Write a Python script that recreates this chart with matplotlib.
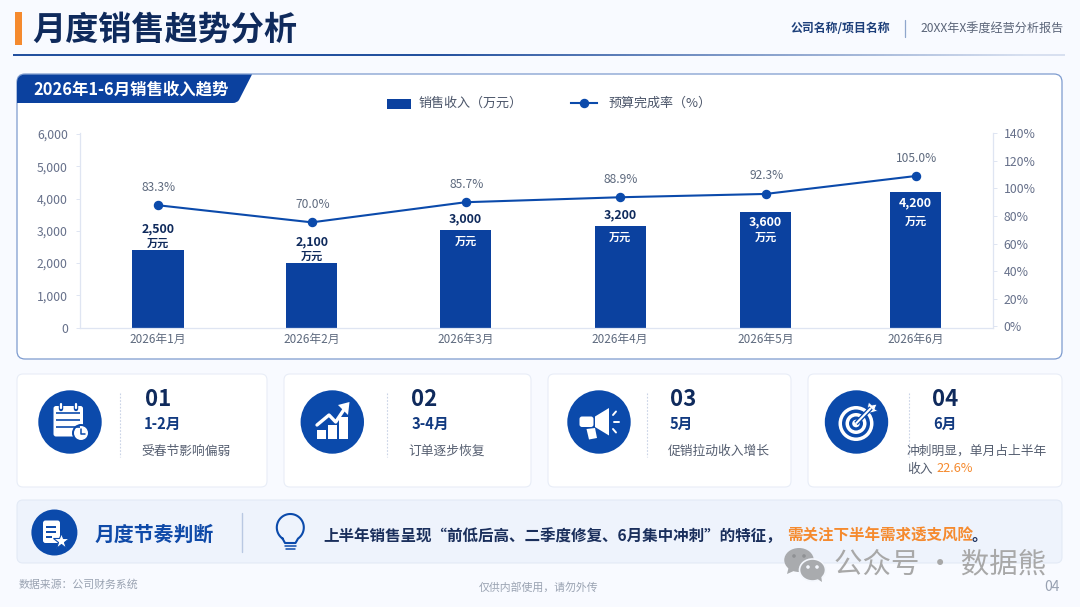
import numpy as np
import matplotlib
matplotlib.use("Agg")
import matplotlib.pyplot as plt
from matplotlib.patches import FancyBboxPatch, Circle, Rectangle, Polygon, Ellipse, PathPatch
from matplotlib.path import Path

plt.rcParams['font.family'] = ['Noto Sans CJK SC', 'DejaVu Sans']

# values as drawn in the picture (bar and line heights), and the labels printed on them
months = ['2026年1月', '2026年2月', '2026年3月', '2026年4月', '2026年5月', '2026年6月']
revenue = [2416, 1994, 3017, 3140, 3574, 4203]
revenue_labels = ['2,500', '2,100', '3,000', '3,200', '3,600', '4,200']
rate = [87.8, 75.4, 90.0, 93.6, 96.0, 109.0]
rate_labels = ['83.3%', '70.0%', '85.7%', '88.9%', '92.3%', '105.0%']
left_ticks = [0, 1000, 2000, 3000, 4000, 5000, 6000]
right_ticks = [0, 20, 40, 60, 80, 100, 120, 140]

# month spacing on the axis, it is not quite even in the picture
month_pos = [0, 1.015, 2.03, 3.05, 4.01, 5.0]

card_nums = ['01', '02', '03', '04']
card_periods = ['1-2月', '3-4月', '5月', '6月']
card_notes = ['受春节影响偏弱', '订单逐步恢复', '促销拉动收入增长', '冲刺明显，单月占上半年']

NAVY = '#0f2a5c'
BLUE = '#0b419f'
ICON = '#0b4aab'
ORANGE = '#f58a2e'
GREY = '#5e6a7e'

fig = plt.figure(figsize=(10.8, 6.07), dpi=100, facecolor='#f8faff')

# overlay in pixel coordinates for everything around the chart
bg = fig.add_axes([0, 0, 1, 1], zorder=0)
bg.set_xlim(0, 1080)
bg.set_ylim(607, 0)
bg.axis('off')


def box(x0, y0, x1, y1, r, fc, ec, lw=0.8):
    bg.add_patch(FancyBboxPatch((x0 + r, y0 + r), x1 - x0 - 2 * r, y1 - y0 - 2 * r,
                                boxstyle=f'round,pad={r},rounding_size={r}', fc=fc, ec=ec, lw=lw))


def txt(x, y, s, size, color, weight='normal', ha='left'):
    bg.text(x, y, s, fontsize=size, color=color, fontweight=weight, ha=ha, va='center')


def line(xs, ys, color='white', lw=1.5, cap='round'):
    bg.plot(xs, ys, color=color, lw=lw, solid_capstyle=cap)


# header
bg.add_patch(Rectangle((15, 12), 6.5, 33, fc=ORANGE, ec='none'))
txt(32.5, 30, '月度销售趋势分析', 23.9, NAVY, 'bold')
grad = np.ones((1, 256, 4))
grad[0, :, :3] = matplotlib.colors.to_rgb('#24519f')
grad[0, :, 3] = np.clip(1.6 - 1.5 * np.linspace(0, 1, 256), 0.15, 1)
bg.imshow(grad, extent=[13, 1065, 56.2, 55], aspect='auto', zorder=2)
bg.set_xlim(0, 1080)
bg.set_ylim(607, 0)
txt(791, 28.5, '公司名称/项目名称', 8.55, '#1d3f7a', 'bold')
line([905, 905], [20, 37], '#8fa6cc', 0.9)
txt(920.5, 28.5, '20XX年X季度经营分析报告', 8.7, '#5a6478')

# chart panel
box(17, 74, 1062, 359, 8, 'white', '#7d9bcf', 0.9)
tab = Path([(17, 103), (17, 83), (17, 74.5), (25, 74.5), (252, 74.5), (239, 100), (237, 103), (233, 103), (17, 103)],
           [Path.MOVETO, Path.LINETO, Path.CURVE3, Path.CURVE3, Path.LINETO, Path.LINETO,
            Path.CURVE3, Path.CURVE3, Path.CLOSEPOLY])
bg.add_patch(PathPatch(tab, fc=BLUE, ec='none'))
txt(33, 89, '2026年1-6月销售收入趋势', 11.8, 'white', 'bold')

# legend
bg.add_patch(Rectangle((387, 98.5), 24, 10, fc=BLUE, ec='none'))
txt(419, 103, '销售收入（万元）', 9.4, '#4c566a')
bg.plot([571, 597], [103, 103], color=ICON, lw=1.5)
bg.plot([584], [103], color=ICON, marker='o', ms=5.8)
txt(609, 103, '预算完成率（%）', 9.4, '#4c566a')

# chart
ax = fig.add_axes([80.3 / 1080, 1 - 327.7 / 607, 913 / 1080, 194.7 / 607], zorder=1)
ax.patch.set_alpha(0)
ax.set_xlim(-0.513, 5.513)
ax.set_ylim(0, 6031)
ax.bar(month_pos, revenue, width=0.337, color=BLUE, zorder=2)
ax.set_xticks(month_pos)
ax.set_xticklabels(months, fontsize=8.5, color=GREY)
ax.set_yticks(left_ticks)
ax.set_yticklabels([f'{v:,}' for v in left_ticks], fontsize=8.8, color='#66708a')
ax.tick_params(axis='x', length=0, pad=4)
ax.tick_params(axis='y', length=3, width=0.7, color='#dfe5f2', pad=6)
for s in ['top', 'right']:
    ax.spines[s].set_visible(False)
for s in ['left', 'bottom']:
    ax.spines[s].set_color('#dfe5f2')
    ax.spines[s].set_linewidth(0.9)

ax2 = ax.twinx()
ax2.set_ylim(-1.0, 140.2)
ax2.plot(month_pos, rate, color=ICON, lw=1.5, marker='o', ms=5.8, zorder=3)
ax2.set_yticks(right_ticks)
ax2.set_yticklabels([f'{v}%' for v in right_ticks], fontsize=8.8, color='#66708a')
ax2.tick_params(axis='y', length=3, width=0.7, color='#dfe5f2', pad=4.4)
for s in ['top', 'left', 'bottom']:
    ax2.spines[s].set_visible(False)
ax2.spines['right'].set_color('#dfe5f2')
ax2.spines['right'].set_linewidth(0.9)

for p, v, lab in zip(month_pos, rate, rate_labels):
    ax2.annotate(lab, (p, v), xytext=(1, 18), textcoords='offset pixels', ha='center', va='center',
                 fontsize=8.6, color=GREY)

# label offsets above (+) or inside (-) the bar top, in pixels
value_off = [21, 21, 11, 11, -10, -11]
unit_off = [6, 7, -11, -11, -25, -29]
value_col = [NAVY, NAVY, NAVY, NAVY, 'white', 'white']
unit_col = [NAVY, NAVY, 'white', 'white', 'white', 'white']
for i, p in enumerate(month_pos):
    ax.annotate(revenue_labels[i], (p, revenue[i]), xytext=(0, value_off[i]), textcoords='offset pixels',
                ha='center', va='center', fontsize=8.9, fontweight='bold', color=value_col[i], zorder=4)
    ax.annotate('万元', (p, revenue[i]), xytext=(0, unit_off[i]), textcoords='offset pixels',
                ha='center', va='center', fontsize=8, fontweight='bold', color=unit_col[i], zorder=4)

# cards
cards = [(17, 267), (284, 531), (548, 791), (808, 1062)]
circle_x = [70, 332.3, 599, 856.5]
dash_x = [120, 387, 647, 909]
num_x = [145, 411.5, 670, 932]
per_x = [144, 411.5, 670, 933.6]
note_x = [141.5, 408.5, 668, 907]
for i in range(4):
    box(cards[i][0], 374, cards[i][1], 487, 6, 'white', '#e8edf7', 0.8)
    bg.add_patch(Circle((circle_x[i], 422), 31.7, fc=ICON, ec='none'))
    bg.plot([dash_x[i], dash_x[i]], [393, 457], color='#c9d3e6', lw=0.8, ls=(0, (1.5, 1.5)))
    txt(num_x[i], 399, card_nums[i], 16, NAVY, 'bold')
    txt(per_x[i], 424, card_periods[i], 10.6, '#123a80', 'bold')
    txt(note_x[i], 451, card_notes[i], 9.2, '#555e70')
txt(907, 469, '收入', 9.2, '#555e70')
txt(936.7, 469, '22.6%', 9.2, ORANGE)

# calendar icon
box(53.5, 406, 83, 436.5, 2.5, 'white', 'none')
for y in [413, 420, 427]:
    line([56, 80], [y, y], ICON, 1.2, 'butt')
for x in [61, 76]:
    line([x, x], [402.5, 409], ICON, 3.2)
    line([x, x], [403.5, 408], 'white', 1.6)
bg.add_patch(Circle((81, 433), 9, fc=ICON, ec='none'))
bg.add_patch(Circle((81, 433), 7, fc='white', ec='none'))
line([81, 81, 85], [429, 433.5, 433.5], ICON, 1.1)

# growth icon
for x0, top in [(316.5, 430), (327.8, 425), (339, 416.5)]:
    bg.add_patch(Rectangle((x0, top), 9, 439 - top, fc='white', ec='none'))
line([317, 329, 335.7, 345], [425, 415, 422, 408], 'white', 2.4)
bg.add_patch(Polygon([(349.5, 402), (338, 405), (348, 415)], fc='white', ec='none'))

# megaphone icon
bg.add_patch(Polygon([(595, 416.5), (609, 408), (609, 435.5), (595, 427)], fc='white', ec='none'))
box(579.5, 416.5, 593.5, 427, 2.5, 'white', 'none')
bg.add_patch(Polygon([(586.5, 429), (595, 428), (597, 438), (589, 439.5)], fc='white', ec='none'))
line([613, 616], [415, 411.5], 'white', 1.4)
line([614, 619], [422, 422], 'white', 1.4)
line([613, 616], [429, 432.5], 'white', 1.4)

# target icon
for r, c in [(17.5, 'white'), (14, ICON), (10.5, 'white'), (7, ICON), (3.8, 'white')]:
    bg.add_patch(Circle((856, 423.5), r, fc=c, ec='none'))
line([856, 871], [423.5, 408], ICON, 3.4, 'butt')
line([856, 871], [423.5, 408], 'white', 1.5, 'butt')
bg.add_patch(Polygon([(867, 410), (868.5, 402), (872, 405), (877, 404), (875, 409), (878, 411), (870, 413)],
                     fc='white', ec=ICON, lw=0.6))

# summary banner
box(17, 500, 1062, 563, 6, '#eef3fc', '#e3eaf6', 0.8)
bg.add_patch(Circle((54.4, 532.5), 23, fc=ICON, ec='none'))
box(43, 520.5, 60, 543, 2.5, 'white', 'none')
for y, x1 in [(527, 56), (532, 56), (537, 52)]:
    line([46, x1], [y, y], ICON, 1.4, 'butt')
bg.plot([61], [540.5], marker='*', ms=12, color='white', mec=ICON, mew=0.8)
txt(94.5, 534, '月度节奏判断', 14.3, '#0f4aa8', 'bold')
line([242.4, 242.4], [513, 552], '#b9c8e2', 1)

# bulb
t = np.radians(np.linspace(125, 415, 60))
bx = 290.3 + 13.5 * np.cos(t)
by = 527.5 + 13.5 * np.sin(t)
bg.plot(np.r_[bx, 295.5, 285, bx[0]], np.r_[by, 543, 543, by[0]], color=ICON, lw=1.5)
line([284.5, 296], [546, 546], ICON, 1.1)
line([286, 294.5], [549, 549], ICON, 1.1)

txt(323.5, 535.5, '上半年销售呈现“前低后高、二季度修复、6月集中冲刺”的特征，', 11.2, '#1a2f5c', 'bold')
txt(787, 535.5, '需关注下半年需求透支风险', 11.2, ORANGE, 'bold')
txt(972, 535.5, '。', 11.2, '#1a2f5c', 'bold')

# footer
txt(19, 585, '数据来源：公司财务系统', 7.85, '#9aa3b2')
txt(478.5, 587, '仅供内部使用，请勿外传', 7.85, '#9aa3b2')
txt(1060, 587, '04', 10, '#98a1b1', ha='right')

# watermark
WM = '#a9abae'
bg.add_patch(Ellipse((799, 560), 29.5, 24, fc=WM, ec='none', zorder=5))
bg.add_patch(Polygon([(789, 566), (787, 574), (796, 570)], fc=WM, ec='none', zorder=5))
bg.add_patch(Ellipse((812.5, 570), 26, 22, fc=WM, ec='#f4f7fd', lw=1.2, zorder=6))
bg.add_patch(Polygon([(816, 578), (822, 582), (821, 575)], fc=WM, ec='none', zorder=6))
for x, y, c in [(794, 556, '#8f9194'), (804, 556, '#8f9194'), (808, 567, '#f4f7fd'), (817, 567, '#f4f7fd')]:
    bg.add_patch(Circle((x, y), 1.8, fc=c, ec='none', zorder=7))
bg.text(834, 564, '公众号 · 数据熊', fontsize=20.5, color='#a8a8a8', ha='left', va='center', zorder=7)

fig.savefig('out.png', dpi=100, facecolor=fig.get_facecolor())
